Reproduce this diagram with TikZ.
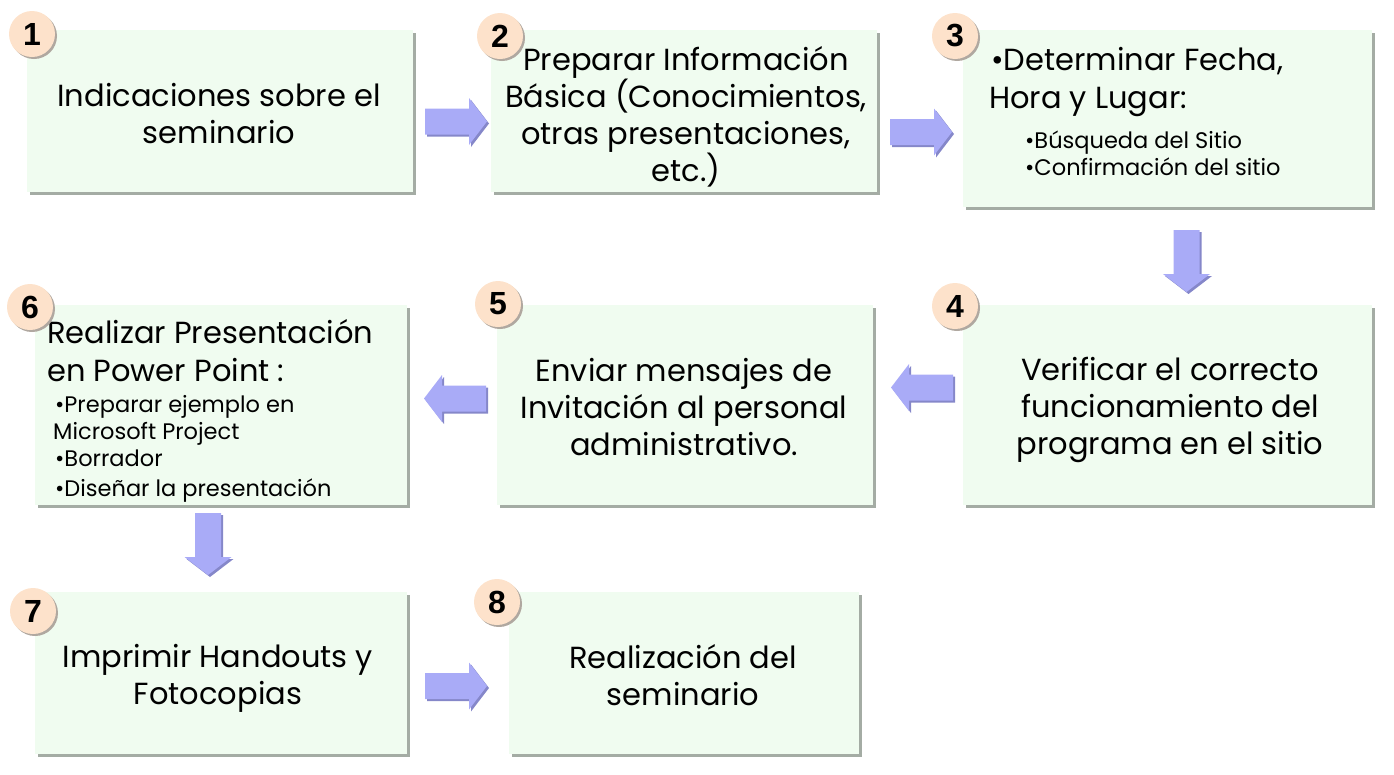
\documentclass[tikz,border=0pt]{standalone}
\usepackage{fontspec}
\setmainfont{Poppins}
\newfontfamily\numfont{Liberation Sans}
\usetikzlibrary{shadows}
\definecolor{boxfill}{HTML}{F0FCF0}
\definecolor{boxshadow}{HTML}{A4ACA4}
\definecolor{circfill}{HTML}{FDE2CB}
\definecolor{circshadow}{HTML}{B0A8A0}
\definecolor{arrfill}{HTML}{A9ABF7}
\definecolor{arrshadow}{HTML}{8587C9}
\newcommand\bigtxt{\fontsize{30.5}{37}\selectfont}
\newcommand\smalltxt{\fontsize{22.5}{30}\selectfont}
\tikzset{
 stepbox/.style={rectangle, fill=boxfill, inner sep=0pt,
   drop shadow={shadow xshift=3pt, shadow yshift=-3pt, fill=boxshadow, opacity=1}},
 boxtxt/.style={align=center, inner sep=0pt, font=\bigtxt},
 numcirc/.style={circle, fill=circfill, minimum size=46pt, inner sep=0pt,
   font=\numfont\bfseries\fontsize{32}{32}\selectfont,
   drop shadow={shadow xshift=2pt, shadow yshift=-2pt, fill=circshadow, opacity=1}},
 linetxt/.style={anchor=base west, inner sep=0pt},
 barrow/.pic={\path[pic actions] (-31,-13)--(13,-13)--(13,-23.5)--(31,0)--(13,23.5)--(13,13)--(-31,13)--cycle;},
 arrshad/.style={fill=arrshadow},
 arrmain/.style={fill=arrfill},
}
\begin{document}
\begin{tikzpicture}[x=1pt,y=-1pt]
\useasboundingbox (0,0) rectangle (1394,774);
% boxes
\node[stepbox, minimum width=386pt, minimum height=162pt] (b1) at (220,111) {};
\node[stepbox, minimum width=386pt, minimum height=162pt] (b2) at (684,111) {};
\node[stepbox, minimum width=409pt, minimum height=177pt] (b3) at (1167.5,118.5) {};
\node[stepbox, minimum width=409pt, minimum height=200pt] (b4) at (1167.5,405) {};
\node[stepbox, minimum width=376pt, minimum height=200pt] (b5) at (685,405) {};
\node[stepbox, minimum width=372pt, minimum height=200pt] (b6) at (221,405) {};
\node[stepbox, minimum width=372pt, minimum height=162pt] (b7) at (221,673) {};
\node[stepbox, minimum width=350pt, minimum height=162pt] (b8) at (684,673) {};
% centred texts
\node[boxtxt] (t1) at (219,113.5) {Indicaciones sobre el\\seminario};
\node[boxtxt] (t2) at (686,116.5) {Preparar Información\\Básica (Conocimientos,\\otras presentaciones,\\etc.)};
\node[boxtxt] (t4) at (1170,410) {Verificar el correcto\\funcionamiento del\\programa en el sitio};
\node[boxtxt] (t5) at (684,407) {Enviar mensajes de\\Invitación al personal\\administrativo.};
\node[boxtxt] (t7) at (218,678) {Imprimir Handouts y\\Fotocopias};
\node[boxtxt] (t8) at (683,675.5) {Realización del\\seminario};
% box 3 text
\node[linetxt, font=\bigtxt] (t3a) at (991,70) {•Determinar Fecha,};
\node[linetxt, font=\bigtxt] (t3b) at (989,108) {Hora y Lugar:};
\node[linetxt, font=\smalltxt] (t3c) at (1025,148) {•Búsqueda del Sitio};
\node[linetxt, font=\smalltxt] (t3d) at (1025,175) {•Confirmación del sitio};
% box 6 text
\node[linetxt, font=\bigtxt] (t6a) at (47,343) {Realizar Presentación};
\node[linetxt, font=\bigtxt] (t6b) at (47,381) {en Power Point :};
\node[linetxt, font=\smalltxt] (t6c) at (55,412) {•Preparar ejemplo en};
\node[linetxt, font=\smalltxt] (t6d) at (53,439) {Microsoft Project};
\node[linetxt, font=\smalltxt] (t6e) at (55,466) {•Borrador};
\node[linetxt, font=\smalltxt] (t6f) at (55,496) {•Diseñar la presentación};
% number circles
\node[numcirc] (n1) at (32,34) {1};
\node[numcirc] (n2) at (500,36) {2};
\node[numcirc] (n3) at (955,36) {3};
\node[numcirc] (n4) at (955,306) {4};
\node[numcirc] (n5) at (498,304) {5};
\node[numcirc] (n6) at (30,307) {6};
\node[numcirc] (n7) at (33,611) {7};
\node[numcirc] (n8) at (497,602) {8};
% block arrows
\pic[arrshad] at (458,123.5) {barrow};
\pic[arrmain] at (456,121.5) {barrow};
\pic[arrshad] at (923,134) {barrow};
\pic[arrmain] at (921,132) {barrow};
\pic[arrshad,rotate=-90] at (1188.5,263) {barrow};
\pic[arrmain,rotate=-90] at (1186.5,261) {barrow};
\pic[arrshad,rotate=180] at (924,389.5) {barrow};
\pic[arrmain,rotate=180] at (922,387.5) {barrow};
\pic[arrshad,rotate=180] at (457,400.5) {barrow};
\pic[arrmain,rotate=180] at (455,398.5) {barrow};
\pic[arrshad,rotate=-90] at (210,546) {barrow};
\pic[arrmain,rotate=-90] at (208,544) {barrow};
\pic[arrshad] at (458,688) {barrow};
\pic[arrmain] at (456,686) {barrow};
\end{tikzpicture}
\end{document}
